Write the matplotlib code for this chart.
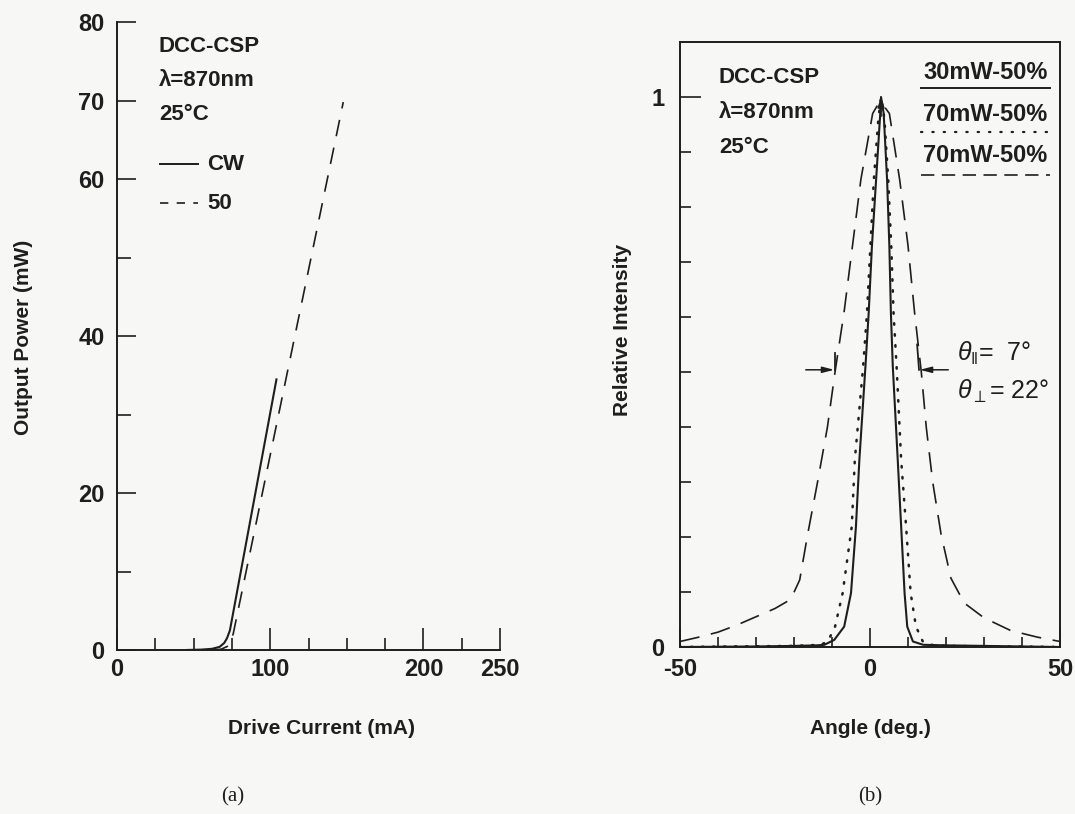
import matplotlib
matplotlib.use('Agg')
import matplotlib.pyplot as plt

# ---------------- data: panel (a) ----------------
cw_current = [45, 55, 62, 67, 70, 71.8, 73.7, 104.2]
cw_power = [0.0, 0.05, 0.15, 0.4, 0.9, 1.5, 2.5, 34.6]
p50_current = [62, 68, 72.5, 74.5, 75.9, 147.7]
p50_power = [0.0, 0.1, 0.5, 1.2, 2.1, 69.8]
a_xticks = [0, 100, 200, 250]
a_xminor = [25, 50, 75, 125, 150, 175, 225]
a_yticks = [0, 20, 40, 60, 70, 80]
a_yminor = [10, 30, 50]
a_legend = ['CW', '50']

# ---------------- data: panel (b) ----------------
solid_angle = [-50, -30, -20, -14, -12, -9.4, -6.8, -5.0, -3.7, -2.8, -1.2, -0.35,
               0.5, 1.6, 2.7, 2.9, 3.6, 4.5, 5.1, 5.5, 6.0, 7.3, 8.2, 9.1, 9.8,
               11.3, 14, 20, 30, 50]
solid_int = [0.0, 0.001, 0.002, 0.003, 0.004, 0.013, 0.037, 0.098, 0.219, 0.34, 0.51,
             0.607, 0.728, 0.849, 0.97, 1.0, 0.97, 0.849, 0.728, 0.607, 0.51, 0.34,
             0.219, 0.098, 0.037, 0.01, 0.004, 0.003, 0.002, 0.0]
dot_angle = [-50, -20, -13, -11.1, -9.2, -7.2, -4.8, -4.0, -1.8, -0.8, 0.1, 1.0, 2.2,
             2.9, 3.8, 4.8, 5.6, 6.2, 7.0, 8.2, 9.5, 10.7, 12.1, 13.9, 16, 20, 50]
dot_int = [0.0, 0.002, 0.004, 0.01, 0.037, 0.098, 0.219, 0.34, 0.51, 0.607, 0.728,
           0.849, 0.96, 1.0, 0.96, 0.849, 0.728, 0.607, 0.51, 0.34, 0.219, 0.098,
           0.037, 0.01, 0.004, 0.002, 0.0]
dash_angle = [-50, -45, -40, -35, -30, -25, -22, -20.7, -18.5, -16.4, -13.8, -11.2,
              -9.2, -6.8, -4.6, -2.4, 0.7, 2.4, 3.5, 5.1, 7.8, 10, 11.7, 13.5, 14.8,
              16.5, 18.7, 21.3, 24.8, 30, 37, 44, 50]
dash_int = [0.01, 0.018, 0.027, 0.04, 0.055, 0.07, 0.082, 0.089, 0.122, 0.205, 0.30,
            0.40, 0.50, 0.61, 0.73, 0.85, 0.97, 0.99, 0.985, 0.97, 0.85, 0.73, 0.61,
            0.50, 0.40, 0.30, 0.205, 0.125, 0.08, 0.053, 0.03, 0.018, 0.01]
b_legend = ['30mW-50%', '70mW-50%', '70mW-50%']
b_xticks = [-50, 0, 50]
b_xminor = [-40, -30, -20, -10, 10, 20, 30, 40]
b_yticks = [0, 1]
b_yminor = [0.1, 0.2, 0.3, 0.4, 0.5, 0.6, 0.7, 0.8, 0.9]

FONT = ['Liberation Sans', 'DejaVu Sans']
plt.rcParams['font.family'] = FONT
plt.rcParams['mathtext.fontset'] = 'custom'
plt.rcParams['mathtext.it'] = 'Liberation Sans:italic'
plt.rcParams['mathtext.rm'] = 'Liberation Sans'
plt.rcParams['axes.unicode_minus'] = False
INK = '#1e1e1e'
BG = '#f7f7f5'

W, H = 1075, 814
fig = plt.figure(figsize=(W / 100, H / 100), dpi=100, facecolor=BG)


def rect(x0, y0, x1, y1):
    return [x0 / W, 1 - y1 / H, (x1 - x0) / W, (y1 - y0) / H]


def ftext(x, y, s, **kw):
    fig.text(x / W, 1 - y / H, s, **kw)


TK = dict(fontsize=16, fontweight='bold', color=INK)
LAB = dict(fontsize=15, fontweight='bold', color=INK)
TICKFS = 17

# ---------------- panel (a) ----------------
ax1 = fig.add_axes(rect(117, 22, 500, 650))
ax1.set_facecolor(BG)
ax1.set_xlim(0, 250)
ax1.set_ylim(0, 80)
for s in ['top', 'right']:
    ax1.spines[s].set_visible(False)
for s in ['left', 'bottom']:
    ax1.spines[s].set_linewidth(1.4)
    ax1.spines[s].set_color(INK)
ax1.set_xticks(a_xticks)
ax1.set_xticks(a_xminor, minor=True)
ax1.set_yticks(a_yticks)
ax1.set_yticks(a_yminor, minor=True)
ax1.tick_params(axis='x', which='major', direction='in', length=16, width=1.2, pad=6, colors=INK)
ax1.tick_params(axis='x', which='minor', direction='in', length=8.5, width=1.2, colors=INK)
ax1.tick_params(axis='y', which='major', direction='in', length=14, width=1.2, pad=9, colors=INK)
ax1.tick_params(axis='y', which='minor', direction='in', length=10, width=1.2, colors=INK)
for lab in ax1.get_xticklabels() + ax1.get_yticklabels():
    lab.set_fontsize(TICKFS)
    lab.set_fontweight('bold')

ax1.plot(cw_current, cw_power, color=INK, lw=1.5, solid_capstyle='butt')
ax1.plot(p50_current, p50_power, color=INK, lw=1.2, dashes=(10, 7))

ax1.text(27.4, 76.9, 'DCC-CSP', ha='left', va='center', **TK)
ax1.text(27.4, 72.6, 'λ=870nm', ha='left', va='center', **TK)
ax1.text(27.4, 68.2, '25°C', ha='left', va='center', **TK)
ax1.plot([28, 52.9], [61.9, 61.9], color=INK, lw=1.4)
ax1.plot([28, 52.9], [56.9, 56.9], color=INK, lw=1.2, dashes=(5, 5))
ax1.text(58.7, 61.8, a_legend[0], ha='left', va='center', **TK)
ax1.text(58.7, 56.9, a_legend[1], ha='left', va='center', **TK)

ftext(24, 337, 'Output Power (mW)', rotation=90, ha='center', va='center', **LAB)
ftext(321, 728, 'Drive Current (mA)', ha='center', va='center', **LAB)
ftext(233, 797, '(a)', ha='center', va='center', fontsize=15, color=INK,
      family=['Liberation Serif', 'DejaVu Serif'])

# ---------------- panel (b) ----------------
ax2 = fig.add_axes(rect(680, 42, 1060, 647))
ax2.set_facecolor(BG)
ax2.set_xlim(-50, 50)
ax2.set_ylim(0, 1.1)
for s in ax2.spines.values():
    s.set_linewidth(1.4)
    s.set_color(INK)
ax2.set_xticks(b_xticks)
ax2.set_xticks(b_xminor, minor=True)
ax2.set_yticks(b_yticks)
ax2.set_yticks(b_yminor, minor=True)
ax2.tick_params(axis='x', which='major', direction='in', length=14, width=1.2, pad=8, colors=INK)
ax2.tick_params(axis='x', which='minor', direction='in', length=7, width=1.2, colors=INK)
ax2.tick_params(axis='y', which='major', direction='in', length=15, width=1.2, pad=11, colors=INK)
ax2.tick_params(axis='y', which='minor', direction='in', length=8, width=1.2, colors=INK)
for lab in ax2.get_xticklabels() + ax2.get_yticklabels():
    lab.set_fontsize(TICKFS)
    lab.set_fontweight('bold')

ax2.plot(dash_angle, dash_int, color=INK, lw=1.2, dashes=(12, 7))
ax2.plot(dot_angle, dot_int, color=INK, lw=1.8, dashes=(0.6, 3.8), dash_capstyle='round')
ax2.plot(solid_angle, solid_int, color=INK, lw=1.5)
ax2.annotate('', xy=(2.9, 1.005), xytext=(2.9, 0.96),
             arrowprops=dict(arrowstyle='-|>,head_length=0.6,head_width=0.2', color=INK, lw=1.2))

ax2.text(-39.8, 1.035, 'DCC-CSP', ha='left', va='center', **TK)
ax2.text(-39.8, 0.971, 'λ=870nm', ha='left', va='center', **TK)
ax2.text(-39.8, 0.909, '25°C', ha='left', va='center', **TK)

LEG = dict(fontsize=17, fontweight='bold', color=INK)
ax2.text(30.4, 1.044, b_legend[0], ha='center', va='center', **LEG)
ax2.text(30.4, 0.969, b_legend[1], ha='center', va='center', **LEG)
ax2.text(30.4, 0.893, b_legend[2], ha='center', va='center', **LEG)
ax2.plot([13.5, 47.3], [1.016, 1.016], color=INK, lw=1.4)
ax2.plot([13.5, 47.3], [0.936, 0.936], color=INK, lw=1.6, dashes=(0.6, 4.5), dash_capstyle='round')
ax2.plot([13.5, 47.3], [0.858, 0.858], color=INK, lw=1.2, dashes=(8, 4.5))

# beam width markers
ax2.annotate('', xy=(-9.4, 0.504), xytext=(-16.9, 0.504),
             arrowprops=dict(arrowstyle='-|>,head_length=0.7,head_width=0.18', color=INK, lw=1.1,
                             shrinkA=0, shrinkB=0))
ax2.plot([-9.2, -9.2], [0.504, 0.535], color=INK, lw=1.3)
ax2.annotate('', xy=(13.1, 0.504), xytext=(20.6, 0.504),
             arrowprops=dict(arrowstyle='-|>,head_length=0.7,head_width=0.18', color=INK, lw=1.1,
                             shrinkA=0, shrinkB=0))
ax2.plot([12.4, 12.9], [0.55, 0.504], color=INK, lw=1.3)
ax2.text(22.9, 0.533, r'$\theta_{\Vert}$=  7°', ha='left', va='center', fontsize=18,
         color=INK)
ax2.text(22.9, 0.464, r'$\theta_{\perp}$= 22°', ha='left', va='center', fontsize=18,
         color=INK)

ftext(623, 330, 'Relative Intensity', rotation=90, ha='center', va='center', **LAB)
ftext(870, 728, 'Angle (deg.)', ha='center', va='center', **LAB)
ftext(870, 797, '(b)', ha='center', va='center', fontsize=15, color=INK,
      family=['Liberation Serif', 'DejaVu Serif'])

fig.savefig('out.png', dpi=100, facecolor=BG)
